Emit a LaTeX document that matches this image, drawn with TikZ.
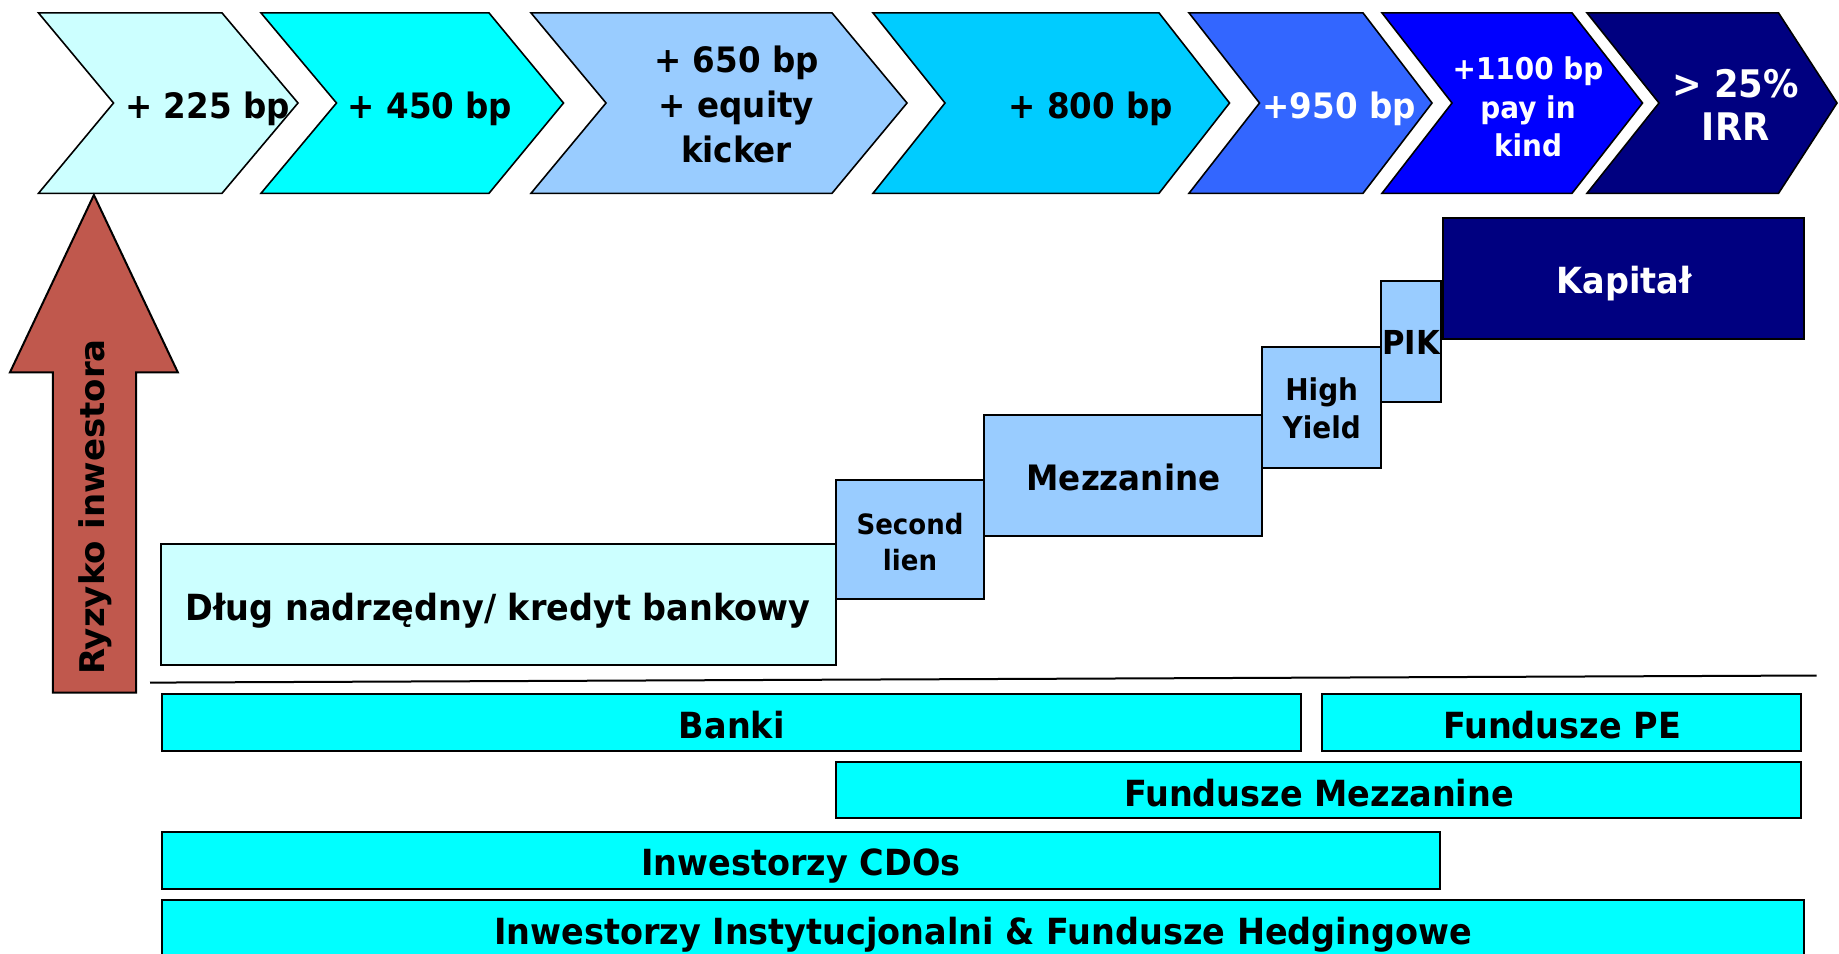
\documentclass[tikz,border=0pt]{standalone}
\usepackage{fontspec}
\setmainfont{DejaVu Sans}[FakeStretch=0.93]
\newfontfamily\vfont{DejaVu Sans}
\definecolor{cA}{HTML}{CCFFFF}
\definecolor{cB}{HTML}{00FFFF}
\definecolor{cC}{HTML}{99CCFF}
\definecolor{cD}{HTML}{00CCFF}
\definecolor{cE}{HTML}{3366FF}
\definecolor{cF}{HTML}{0000FF}
\definecolor{cG}{HTML}{000080}
\definecolor{riskred}{HTML}{C0584D}
\tikzset{
  chev/.style={draw=black, line width=0.8pt, line join=miter},
  box/.style={draw=black, line width=1pt},
  lbl/.style={font=\bfseries\fontsize{18}{22}\selectfont, align=center, inner sep=0pt},
  clbl/.style={font=\bfseries\fontsize{17.5}{22.5}\selectfont, align=center, inner sep=0pt},
}
\begin{document}
\begin{tikzpicture}[x=0.5pt,y=-0.5pt]
\useasboundingbox (0,0) rectangle (1839,953);
\clip (0,0) rectangle (1839,953);
% chevrons
\def\yt{12.9}\def\yb{193.3}\def\ym{103}
\draw[chev, fill=cA] (38.5,\yt) -- (222,\yt) -- (298,\ym) -- (222,\yb) -- (38.5,\yb) -- (113.5,\ym) -- cycle;
\draw[chev, fill=cB] (261,\yt) -- (489,\yt) -- (563.5,\ym) -- (489,\yb) -- (261,\yb) -- (336.5,\ym) -- cycle;
\draw[chev, fill=cC] (531,\yt) -- (832,\yt) -- (907,\ym) -- (832,\yb) -- (531,\yb) -- (606,\ym) -- cycle;
\draw[chev, fill=cD] (873,\yt) -- (1159,\yt) -- (1229.5,\ym) -- (1159,\yb) -- (873,\yb) -- (945,\ym) -- cycle;
\draw[chev, fill=cE] (1189,\yt) -- (1363,\yt) -- (1432,\ym) -- (1363,\yb) -- (1189,\yb) -- (1259.5,\ym) -- cycle;
\draw[chev, fill=cF] (1382,\yt) -- (1572,\yt) -- (1642.5,\ym) -- (1572,\yb) -- (1382,\yb) -- (1452,\ym) -- cycle;
\draw[chev, fill=cG] (1587,\yt) -- (1778.5,\yt) -- (1837,\ym) -- (1778.5,\yb) -- (1587,\yb) -- (1659,\ym) -- cycle;
\node[clbl] (t1) at (207.6,109) {+ 225 bp};
\node[clbl] (t2) at (430,109) {+ 450 bp};
\node[clbl] (t3) at (736.5,104) {+ 650 bp\\+ equity\\kicker};
\node[clbl] (t4) at (1090.7,109) {+ 800 bp};
\node[clbl, text=white] (t5) at (1339,109) {+950 bp};
\node[clbl, text=white, font=\bfseries\fontsize{15}{19.4}\selectfont] (t6) at (1528,107) {+1100 bp\\pay in\\kind};
\node[clbl, text=white, font=\bfseries\fontsize{19}{21.5}\selectfont] (t7) at (1735.7,105) {> 25\%\\IRR};
% risk arrow
\draw[fill=riskred, draw=black, line width=1pt, line join=miter]
  (93.9,195) -- (177.8,372.3) -- (136.2,372.3) -- (136.2,692.7) -- (52.8,692.7) -- (52.8,372.3) -- (10,372.3) -- cycle;
\node[inner sep=0pt, rotate=90, font=\vfont\bfseries\fontsize{17}{20}\selectfont] (risk) at (95,507) {Ryzyko inwestora};
% tranche boxes
\draw[box, fill=cA] (161.4,544.3) rectangle (836.3,665);
\draw[box, fill=cC] (836.3,480) rectangle (983.8,599.3);
\draw[box, fill=cC] (983.8,415) rectangle (1262.3,536);
\draw[box, fill=cC] (1262.3,346.7) rectangle (1380.8,467.7);
\draw[box, fill=cC] (1380.8,280.7) rectangle (1440.7,401.7);
\draw[box, fill=cG] (1443,217.7) rectangle (1804.2,339.3);
\node[lbl] (dlug) at (498,611) {Dług nadrzędny/ kredyt bankowy};
\node[lbl, font=\bfseries\fontsize{14}{17.75}\selectfont] (sec) at (910,542) {Second\\lien};
\node[clbl] (mezz) at (1123.5,477) {Mezzanine};
\node[lbl, font=\bfseries\fontsize{15}{19}\selectfont] (hy) at (1321.7,408) {High\\Yield};
\node[lbl, font=\bfseries\fontsize{16.5}{20}\selectfont] (pik) at (1411,342) {PIK};
\node[lbl, text=white] (kap) at (1624,283.5) {Kapitał};
% separator line
\coordinate (la) at (150,682.6);
\coordinate (lb) at (1816.7,675.5);
\draw[line width=1pt] (la) -- (lb);
% investor bars
\draw[box, fill=cB] (161.8,694) rectangle (1300.6,750.7);
\draw[box, fill=cB] (1321.7,694) rectangle (1801.4,751);
\draw[box, fill=cB] (836.2,761.7) rectangle (1801.4,818.3);
\draw[box, fill=cB] (161.8,832) rectangle (1440.2,889);
\draw[box, fill=cB] (161.8,900) rectangle (1803.8,1000);
\node[lbl] (banki) at (731.8,725) {Banki};
\node[lbl] (fpe) at (1562,725) {Fundusze PE};
\node[lbl] (fmez) at (1319,793) {Fundusze Mezzanine};
\node[lbl] (cdo) at (801,866) {Inwestorzy CDOs};
\node[lbl] (inst) at (983,935) {Inwestorzy Instytucjonalni \& Fundusze Hedgingowe};
\end{tikzpicture}
\end{document}
